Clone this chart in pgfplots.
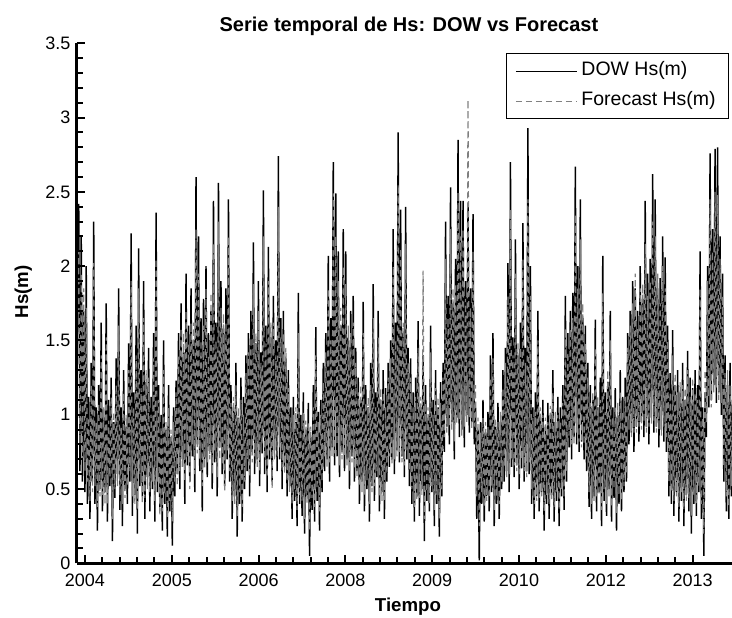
\documentclass[border=0pt]{standalone}
\usepackage{fontspec}
\setmainfont{Liberation Sans}
\usepackage{pgfplots}
\pgfplotsset{compat=1.18}
\usepackage{pgfplotstable}

\definecolor{fcgray}{RGB}{128,128,128}

% day 0 = tick "2004"; weekly readings of Hs (m)
\pgfplotstableread{
day dow fc
-46 0.90 0.80
-42 1.85 1.60
-35 2.42 2.10
-28 0.62 0.80
-21 2.20 1.95
-14 0.55 0.70
-7 1.70 1.85
0 0.48 0.62
7 2.00 1.72
14 0.40 0.55
21 1.12 0.98
28 0.30 0.42
35 1.35 1.20
42 0.55 0.48
49 2.30 2.02
56 0.40 0.52
63 1.05 0.95
70 0.22 0.38
77 1.20 1.08
84 0.50 0.45
91 1.62 1.40
98 0.35 0.46
105 0.98 1.05
112 0.48 0.40
119 1.75 1.52
126 0.28 0.40
133 1.10 0.96
140 0.52 0.58
147 1.25 1.12
154 0.15 0.30
161 0.95 1.02
168 0.44 0.50
175 1.38 1.20
182 0.60 0.52
189 1.85 1.60
196 0.36 0.46
203 1.05 0.92
210 0.25 0.40
217 1.30 1.15
224 0.50 0.44
231 0.92 1.00
238 0.40 0.52
245 1.48 1.30
252 0.55 0.62
259 2.22 1.90
266 0.32 0.45
273 1.15 1.05
280 0.46 0.40
287 1.60 1.40
294 0.20 0.36
301 2.12 1.85
308 0.52 0.60
315 1.30 1.18
322 0.45 0.40
329 1.90 1.65
336 0.30 0.44
343 1.22 1.30
350 0.58 0.50
357 1.45 1.25
364 0.35 0.48
371 1.12 1.00
378 0.50 0.55
385 1.55 1.38
392 0.28 0.42
399 2.36 2.05
406 0.48 0.55
413 1.20 1.10
420 0.38 0.32
427 1.00 0.92
434 0.22 0.35
441 1.50 1.30
448 0.40 0.46
455 0.90 0.95
462 0.18 0.30
469 1.20 1.05
476 0.35 0.42
483 0.85 0.90
490 0.12 0.28
497 1.05 0.95
504 0.45 0.55
511 1.23 1.15
518 0.60 0.52
525 1.55 1.40
532 0.50 0.62
539 1.75 1.58
546 0.70 0.65
553 1.42 1.55
560 0.40 0.55
567 1.95 1.70
574 0.66 0.72
581 1.60 1.48
588 0.55 0.50
595 1.85 1.62
602 0.72 0.80
609 1.50 1.62
616 0.48 0.60
623 2.60 2.25
630 0.80 0.74
637 2.20 1.95
644 0.62 0.70
651 1.65 1.50
658 0.35 0.52
665 1.78 1.60
672 0.70 0.64
679 2.00 1.85
686 0.58 0.68
693 1.55 1.40
700 0.75 0.70
707 1.70 1.82
714 0.50 0.60
721 2.44 2.15
728 0.68 0.75
735 1.62 1.50
742 0.45 0.58
749 2.56 2.30
756 0.78 0.70
763 1.90 1.72
770 0.60 0.66
777 1.58 1.68
784 0.52 0.48
791 1.85 1.62
798 0.70 0.76
805 2.45 2.20
812 0.55 0.62
819 1.20 1.08
826 0.30 0.42
833 1.05 1.12
840 0.45 0.40
847 1.35 1.20
854 0.18 0.32
861 0.98 1.05
868 0.40 0.48
875 1.25 1.10
882 0.28 0.38
889 1.12 1.00
896 0.50 0.55
903 1.40 1.28
910 0.62 0.70
917 1.55 1.42
924 0.45 0.58
931 1.70 1.52
938 0.75 0.68
945 2.16 1.88
952 0.60 0.72
959 1.48 1.55
966 0.70 0.65
973 1.90 1.70
980 0.52 0.62
987 1.42 1.35
994 0.74 0.80
1001 2.51 2.20
1008 0.60 0.70
1015 1.60 1.48
1022 0.48 0.58
1029 2.13 1.90
1036 0.70 0.76
1043 1.52 1.62
1050 0.55 0.50
1057 1.80 1.62
1064 0.76 0.70
1071 1.50 1.40
1078 0.62 0.72
1085 2.74 2.40
1092 0.70 0.78
1099 1.65 1.52
1106 0.50 0.62
1113 1.70 1.55
1120 0.65 0.60
1127 1.38 1.45
1134 0.45 0.55
1141 1.30 1.18
1148 0.52 0.48
1155 1.05 0.98
1162 0.30 0.40
1169 1.12 1.00
1176 0.42 0.50
1183 0.95 1.05
1190 0.25 0.36
1197 1.82 1.55
1204 0.40 0.46
1211 1.00 0.90
1218 0.32 0.42
1225 1.15 1.02
1232 0.20 0.30
1239 0.90 0.96
1246 0.45 0.40
1253 1.08 0.95
1260 0.05 0.22
1267 0.85 0.92
1274 0.36 0.44
1281 1.20 1.05
1288 0.28 0.38
1295 1.59 1.40
1302 0.42 0.50
1309 1.02 0.95
1316 0.22 0.35
1323 1.10 1.00
1330 0.48 0.55
1337 1.35 1.22
1344 0.62 0.72
1351 1.55 1.42
1358 0.70 0.65
1365 2.07 1.85
1372 0.55 0.68
1379 1.65 1.50
1386 0.78 0.72
1393 2.70 2.49
1400 0.66 0.74
1407 2.49 2.20
1414 0.72 0.80
1421 2.10 1.90
1428 0.58 0.66
1435 1.60 1.72
1442 0.75 0.70
1449 2.25 2.00
1456 0.62 0.72
1463 2.10 1.88
1470 0.70 0.66
1477 1.52 1.60
1484 0.50 0.62
1491 1.70 1.55
1498 0.72 0.68
1505 1.80 1.62
1512 0.55 0.64
1519 1.45 1.35
1526 0.62 0.58
1533 1.25 1.15
1540 0.40 0.52
1547 1.10 1.20
1554 0.55 0.48
1561 1.76 1.55
1568 0.35 0.46
1575 1.20 1.08
1582 0.50 0.56
1589 1.05 1.12
1596 0.28 0.40
1603 1.35 1.20
1610 0.52 0.48
1617 1.88 1.65
1624 0.42 0.52
1631 1.15 1.05
1638 0.58 0.62
1645 1.70 1.52
1652 0.35 0.45
1659 1.10 1.18
1666 0.48 0.42
1673 1.30 1.15
1680 0.30 0.42
1687 1.18 1.05
1694 0.55 0.60
1701 1.35 1.25
1708 0.65 0.72
1715 1.50 1.38
1722 0.70 0.66
1729 2.25 2.00
1736 0.60 0.70
1743 1.62 1.50
1750 0.76 0.72
1757 2.90 2.55
1764 0.68 0.75
1771 2.38 2.12
1778 0.72 0.68
1785 1.55 1.62
1792 0.58 0.66
1799 2.40 2.15
1806 0.70 0.76
1813 1.45 1.35
1820 0.52 0.62
1827 1.38 1.25
1834 0.40 0.50
1841 1.15 1.05
1848 0.28 0.38
1855 1.25 1.12
1862 0.45 0.42
1869 1.63 1.45
1876 0.32 0.44
1883 1.05 1.12
1890 0.50 0.46
1897 1.40 1.97
1904 0.15 0.30
1911 1.20 1.08
1918 0.42 0.48
1925 0.98 1.05
1932 0.35 0.40
1939 1.60 1.42
1946 0.48 0.52
1953 1.10 1.00
1960 0.25 0.36
1967 1.30 1.18
1974 0.40 0.46
1981 1.05 1.12
1988 0.18 0.30
1995 1.22 1.08
2002 0.45 0.50
2009 1.35 1.25
2016 0.75 0.85
2023 2.30 2.05
2030 0.92 0.88
2037 1.80 1.65
2044 0.80 0.92
2051 2.53 2.25
2058 0.95 0.90
2065 1.75 1.85
2072 0.70 0.82
2079 2.05 1.88
2086 0.98 0.94
2093 2.85 2.50
2100 0.85 0.96
2107 2.44 2.20
2114 0.90 0.86
2121 2.44 2.25
2128 0.78 0.92
2135 1.90 1.78
2142 1.00 0.95
2149 2.40 3.12
2156 0.88 0.98
2163 1.85 1.72
2170 0.95 0.90
2177 2.35 2.10
2184 0.80 0.92
2191 1.05 1.20
2198 0.30 0.45
2205 0.90 0.98
2212 0.02 0.25
2219 0.95 0.88
2226 0.40 0.48
2233 1.10 0.98
2240 0.28 0.38
2247 0.88 0.95
2254 0.45 0.42
2261 1.02 0.92
2268 0.35 0.44
2275 1.40 1.25
2282 0.48 0.52
2289 1.55 1.38
2296 0.25 0.36
2303 0.92 0.98
2310 0.40 0.45
2317 1.08 0.95
2324 0.30 0.40
2331 0.95 1.02
2338 0.50 0.55
2345 1.30 1.18
2352 0.55 0.65
2359 1.45 1.35
2366 0.62 0.58
2373 2.02 1.80
2380 0.48 0.60
2387 2.70 2.38
2394 0.65 0.70
2401 1.52 1.40
2408 0.58 0.66
2415 2.18 1.95
2422 0.66 0.62
2429 1.40 1.48
2436 0.50 0.60
2443 1.62 1.45
2450 0.64 0.70
2457 2.29 2.05
2464 0.55 0.62
2471 1.45 1.35
2478 0.62 0.58
2485 2.93 2.45
2492 0.60 0.68
2499 2.00 1.80
2506 0.40 0.50
2513 1.05 0.98
2520 0.30 0.40
2527 1.15 1.02
2534 0.45 0.42
2541 1.70 1.50
2548 0.35 0.44
2555 0.98 1.05
2562 0.48 0.45
2569 1.10 1.00
2576 0.22 0.35
2583 0.92 0.98
2590 0.40 0.46
2597 1.08 0.95
2604 0.30 0.40
2611 1.00 1.06
2618 0.46 0.42
2625 1.30 1.15
2632 0.28 0.38
2639 0.95 1.02
2646 0.42 0.48
2653 1.12 1.00
2660 0.25 0.36
2667 1.05 0.96
2674 0.45 0.50
2681 1.20 1.08
2688 0.36 0.44
2695 1.80 1.58
2702 0.55 0.62
2709 1.55 1.42
2716 0.78 0.86
2723 1.70 1.58
2730 0.70 0.80
2737 1.82 1.65
2744 0.85 0.80
2751 2.67 2.35
2758 0.80 0.88
2765 2.00 1.85
2772 0.75 0.82
2779 2.45 2.18
2786 0.82 0.78
2793 1.65 1.75
2800 0.70 0.80
2807 1.60 1.48
2814 0.62 0.72
2821 1.35 1.25
2828 0.38 0.48
2835 1.20 1.08
2842 0.30 0.40
2849 1.10 1.15
2856 0.45 0.42
2863 1.64 1.45
2870 0.35 0.44
2877 1.05 1.12
2884 0.48 0.46
2891 1.25 1.10
2898 0.25 0.36
2905 2.07 1.82
2912 0.42 0.50
2919 1.15 1.02
2926 0.32 0.40
2933 1.22 1.30
2940 0.50 0.45
2947 1.70 1.50
2954 0.28 0.38
2961 1.05 0.98
2968 0.44 0.50
2975 1.18 1.05
2982 0.22 0.34
2989 1.00 1.08
2996 0.40 0.46
3003 1.30 1.15
3010 0.35 0.42
3017 1.12 1.02
3024 0.48 0.52
3031 1.25 1.12
3038 0.55 0.60
3045 1.55 1.45
3052 0.80 0.90
3059 1.70 1.60
3066 0.88 0.85
3073 1.90 1.75
3080 0.75 0.88
3087 1.85 1.95
3094 0.92 0.88
3101 1.70 1.58
3108 0.82 0.92
3115 2.00 1.85
3122 0.95 0.90
3129 1.78 1.88
3136 0.85 0.95
3143 2.44 2.15
3150 0.92 0.88
3157 1.95 1.80
3164 0.80 0.92
3171 2.05 1.90
3178 0.98 0.94
3185 2.62 2.30
3192 0.88 0.96
3199 2.45 2.20
3206 0.92 0.88
3213 1.85 1.95
3220 0.78 0.90
3227 1.92 1.75
3234 0.90 0.86
3241 2.20 2.00
3248 0.82 0.92
3255 2.06 1.85
3262 0.75 0.85
3269 1.60 1.50
3276 0.45 0.55
3283 1.28 1.15
3290 0.40 0.48
3297 1.57 1.40
3304 0.32 0.42
3311 1.20 1.28
3318 0.48 0.45
3325 1.30 1.15
3332 0.28 0.38
3339 1.15 1.22
3346 0.42 0.48
3353 1.35 1.20
3360 0.25 0.36
3367 1.10 1.18
3374 0.46 0.42
3381 1.43 1.30
3388 0.35 0.44
3395 1.25 1.12
3402 0.20 0.32
3409 1.18 1.25
3416 0.40 0.46
3423 1.30 1.15
3430 0.32 0.40
3437 1.20 1.10
3444 0.48 0.52
3451 2.10 1.85
3458 0.30 0.40
3465 1.05 0.98
3472 0.05 0.20
3479 1.15 1.30
3486 0.85 0.95
3493 2.00 1.90
3500 1.05 1.12
3507 2.76 2.45
3514 1.10 1.05
3521 2.25 2.10
3528 1.20 1.15
3535 2.79 2.50
3542 1.08 1.18
3549 2.80 2.48
3556 1.15 1.10
3563 2.20 2.05
3570 1.00 1.08
3577 1.95 1.80
3584 0.55 0.65
3591 1.40 1.28
3598 0.35 0.45
3605 1.20 1.30
3612 0.30 0.38
3619 1.35 1.20
3626 0.45 0.52
3633 1.10 1.05
}\hsdata

\begin{document}
\begin{tikzpicture}
\useasboundingbox (-57.5pt,-40.3pt) rectangle (491.5pt,422.5pt);
\begin{axis}[
    at={(0,0)}, anchor=south west,
    scale only axis,
    width=491.5pt, height=390pt,
    xmin=-46.6, xmax=3630,
    ymin=0, ymax=3.5,
    clip mode=individual,
    axis x line*=bottom, axis y line*=left,
    axis line style={-, line width=2pt},
    axis on top,
    tick align=inside,
    major tick length=6.5pt, minor tick length=4.5pt,
    tick style={black, line width=1.5pt},
    xtick={0,487,974,1461,1948,2435,2922,3409},
    xticklabels={2004,2005,2006,2008,2009,2010,2012,2013},
    ytick={0,0.5,1,1.5,2,2.5,3,3.5},
    minor x tick num=4, minor y tick num=4,
    tick label style={font=\fontsize{13.5}{16}\selectfont, inner sep=0pt},
    /pgf/number format/assume math mode=true,
    xticklabel style={yshift=-7.5pt},
    yticklabel style={xshift=-4.5pt},
    xlabel={Tiempo},
    xlabel style={at={(rel axis cs:0.5056,-0.0918)}, anchor=base,
        font=\bfseries\fontsize{14}{17}\selectfont},
    ylabel={Hs(m)},
    ylabel style={at={(rel axis cs:-0.0814,0.522)}, anchor=center,
        font=\bfseries\fontsize{14}{17}\selectfont},
    legend style={at={(rel axis cs:1,1)}, anchor=north east,
        xshift=-1.9pt, yshift=-7.5pt,
        draw=black, line width=0.8pt, fill=white,
        font=\fontsize{14.6}{17}\selectfont,
        inner xsep=7pt, inner ysep=1.6pt, row sep=0pt,
        nodes={inner xsep=3pt, inner ysep=4pt, text height=11pt, text depth=3.5pt}},
    legend cell align=left,
    legend image code/.code={\draw[#1, line width=0.7pt] (0pt,0pt) -- (45.8pt,0pt);},
]
\addplot[black, line width=1.1pt] table[x=day, y=dow] {\hsdata};
\addlegendentry{DOW Hs(m)}
\addplot[fcgray, line width=0.9pt, dash pattern=on 4.5pt off 3pt] table[x=day, y=fc] {\hsdata};
\addlegendentry{Forecast Hs(m)}
\node[anchor=base, font=\bfseries\fontsize{15}{18}\selectfont]
    at (rel axis cs:0.507,1.0237) {Serie temporal de Hs: DOW vs Forecast};
\end{axis}
\end{tikzpicture}
\end{document}
